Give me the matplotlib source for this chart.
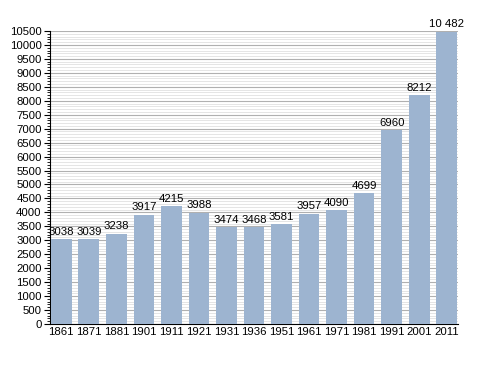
import matplotlib
matplotlib.use("Agg")
import matplotlib.pyplot as plt
from matplotlib.ticker import MultipleLocator

years = ["1861", "1871", "1881", "1901", "1911", "1921", "1931", "1936", "1951",
         "1961", "1971", "1981", "1991", "2001", "2011"]
population = [3038, 3039, 3238, 3917, 4215, 3988, 3474, 3468, 3581,
              3957, 4090, 4699, 6960, 8212, 10482]
labels = ["3038", "3039", "3238", "3917", "4215", "3988", "3474", "3468", "3581",
          "3957", "4090", "4699", "6960", "8212", "10 482"]

plt.rcParams['font.family'] = ['Liberation Sans', 'DejaVu Sans']

fig = plt.figure(figsize=(4.88, 3.73), dpi=100)
ax = fig.add_axes([50/488, 1-324/373, 408/488, 293/373])

x = list(range(len(years)))
ax.bar(x, population, width=0.75, color='#9db4d0', zorder=3)
for xi, v, lab in zip(x, population, labels):
    ax.text(xi, v + 80, lab, ha='center', va='bottom', fontsize=8.2, color='black', zorder=4)

ax.set_xlim(-0.41, 14.41)
ax.set_ylim(0, 10500)
ax.yaxis.set_major_locator(MultipleLocator(500))
ax.yaxis.set_minor_locator(MultipleLocator(100))
ax.grid(which='major', axis='y', color='#b0b0b0', linewidth=0.8, zorder=1)
ax.grid(which='minor', axis='y', color='#e0e0e0', linewidth=0.6, zorder=0)
ax.set_xticks(x)
ax.set_xticklabels(years)
ax.tick_params(axis='x', length=0, labelsize=8.2, pad=2)
ax.tick_params(axis='y', which='major', length=4, width=0.8, labelsize=8.2, pad=2)
ax.tick_params(axis='y', which='minor', length=2, width=0.6)
for s in ['top', 'right']:
    ax.spines[s].set_visible(False)
ax.spines['left'].set_linewidth(0.8)
ax.spines['bottom'].set_linewidth(0.8)

fig.savefig("out.png", dpi=100)
